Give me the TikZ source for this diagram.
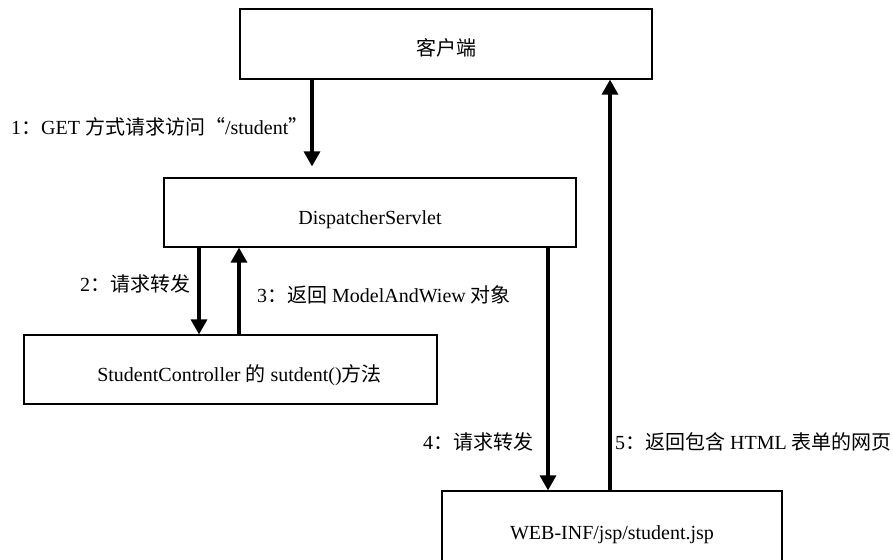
\documentclass[tikz,border=0pt]{standalone}
\usepackage{fontspec}
\setmainfont{Liberation Serif}
\newfontfamily\cjk{Noto Sans CJK SC}
\newcommand{\zh}[1]{{\cjk #1}}
\usetikzlibrary{arrows.meta}
\begin{document}
\begin{tikzpicture}[x=1pt,y=-1pt,
  every node/.style={font=\fontsize{20}{24}\selectfont},
  box/.style={draw=black,line width=1.2pt,rectangle,inner sep=0pt,minimum height=70pt,text height=24pt,text depth=0pt},
  lbl/.style={inner sep=0pt,anchor=west},
  arr/.style={line width=3.2pt,-{Triangle[width=16pt,length=15pt]}}]
\useasboundingbox (0,0) rectangle (893,559);
\clip (0,0) rectangle (893,559);
\fill[white] (0,0) rectangle (893,559);
% boxes
\node[box,minimum width=412pt] (client) at (446,44) {\zh{客户端}};
\node[box,minimum width=412pt,minimum height=69pt] (ds) at (370,212.5) {DispatcherServlet};
\node[box,minimum width=413pt,minimum height=69pt] (sc) at (230.5,369.5) {\hspace*{18pt}StudentController \zh{的} sutdent()\zh{方法}};
\node[box,minimum width=340pt,minimum height=72pt] (web) at (612,527) {WEB-INF/jsp/student.jsp};
% x positions of connectors
\coordinate (xa) at (312,0);
\coordinate (xb) at (199,0);
\coordinate (xc) at (239,0);
\coordinate (xd) at (548,0);
\coordinate (xe) at (610,0);
% connectors
\draw[arr,shorten >=11pt] (client.south -| xa) -- (ds.north -| xa);
\draw[arr] (ds.south -| xb) -- (sc.north -| xb);
\draw[arr] (sc.north -| xc) -- (ds.south -| xc);
\draw[arr] (ds.south -| xd) -- (web.north -| xd);
\draw[arr] (web.north -| xe) -- (client.south -| xe);
% labels
\node[lbl] (l1) at (11,127) {1\zh{：}GET \zh{方式请求访问“}/student\zh{”}};
\node[lbl] (l2) at (80,284) {2\zh{：请求转发}};
\node[lbl] (l3) at (257,295) {3\zh{：返回} ModelAndWiew \zh{对象}};
\node[lbl] (l4) at (423,442) {4\zh{：请求转发}};
\node[lbl] (l5) at (615,442) {5\zh{：返回包含} HTML \zh{表单的网页}};
\end{tikzpicture}
\end{document}
